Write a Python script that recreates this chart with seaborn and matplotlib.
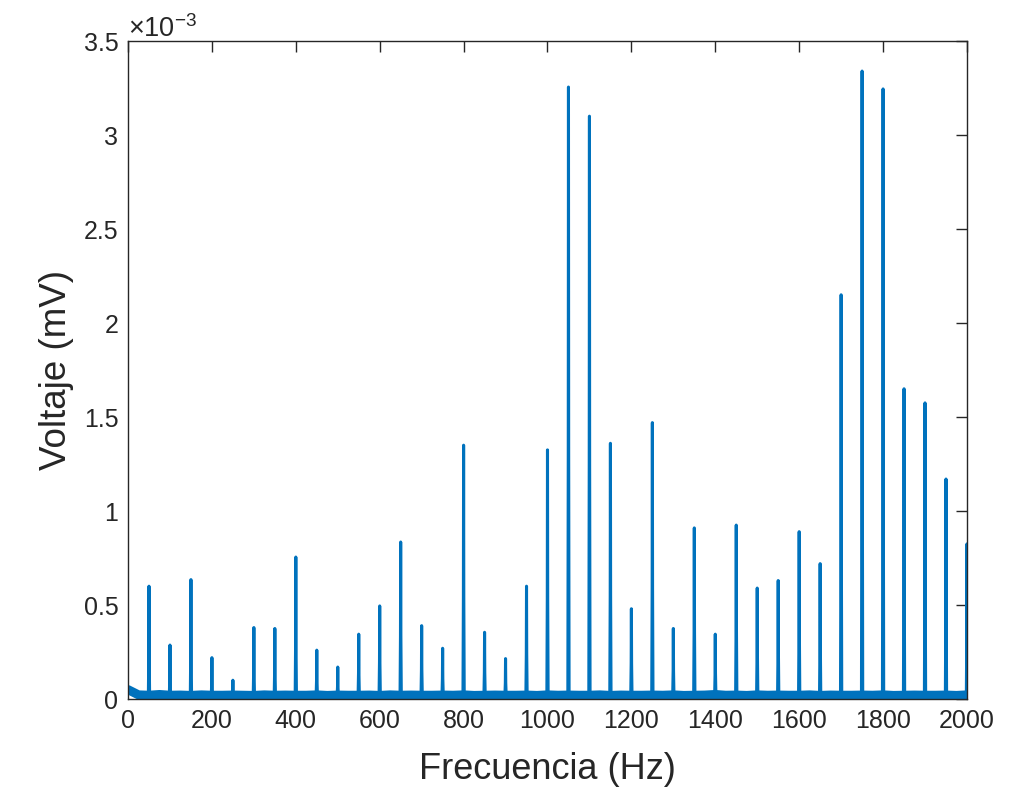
import numpy as np
import pandas as pd
import matplotlib
matplotlib.use("Agg")
import matplotlib.pyplot as plt
import seaborn as sns
from matplotlib.ticker import ScalarFormatter

# Harmonic peaks (Hz) and their amplitudes (x1e-3 mV)
peak_freqs = [50, 100, 150, 200, 250, 300, 350, 400, 450, 500,
              550, 600, 650, 700, 750, 800, 850, 900, 950, 1000,
              1050, 1100, 1150, 1200, 1250, 1300, 1350, 1400, 1450, 1500,
              1550, 1600, 1650, 1700, 1750, 1800, 1850, 1900, 1950, 2000]
peak_vals = [0.60, 0.287, 0.635, 0.22, 0.10, 0.38, 0.375, 0.755, 0.26, 0.17,
             0.345, 0.495, 0.835, 0.39, 0.27, 1.35, 0.355, 0.215, 0.60, 1.325,
             3.255, 3.10, 1.36, 0.48, 1.47, 0.375, 0.91, 0.345, 0.925, 0.59,
             0.63, 0.89, 0.72, 2.15, 3.34, 3.245, 1.65, 1.575, 1.17, 0.825]

# Noise floor read every 25 Hz (x1e-3 mV)
floor_freqs = list(range(0, 2001, 25))
floor_vals = [0.05, 0.022, 0.02, 0.024, 0.02, 0.021, 0.019, 0.022, 0.02, 0.02,
              0.021, 0.02, 0.019, 0.022, 0.02, 0.021, 0.02, 0.02, 0.022, 0.019,
              0.021, 0.02, 0.02, 0.021, 0.019, 0.022, 0.02, 0.021, 0.02, 0.02,
              0.021, 0.02, 0.022, 0.019, 0.02, 0.021, 0.02, 0.02, 0.021, 0.019,
              0.022, 0.02, 0.021, 0.02, 0.02, 0.022, 0.019, 0.021, 0.02, 0.02,
              0.021, 0.02, 0.022, 0.019, 0.02, 0.021, 0.024, 0.02, 0.021, 0.019,
              0.022, 0.02, 0.021, 0.02, 0.02, 0.022, 0.019, 0.021, 0.02, 0.02,
              0.021, 0.02, 0.022, 0.019, 0.02, 0.021, 0.02, 0.02, 0.021, 0.019,
              0.022]

scale = 1e-3
base = 0.02

# spike series built from peak data
sx, sy = [], []
for f, v in zip(peak_freqs, peak_vals):
    sx += [f - 1.5, f - 0.5, f, f + 0.5, f + 1.5]
    sy += [base, v * 0.4, v, v * 0.4, base]
spikes = pd.DataFrame({"f": sx, "v": np.array(sy) * scale})
floor = pd.DataFrame({"f": floor_freqs, "v": np.array(floor_vals) * scale})


class MatlabFormatter(ScalarFormatter):
    def _set_format(self):
        self.format = "%g"


sns.set_theme(style="white")
plt.rcParams["font.family"] = ["Liberation Sans", "DejaVu Sans"]
plt.rcParams["mathtext.fontset"] = "custom"
plt.rcParams["mathtext.rm"] = "Liberation Sans"
plt.rcParams["axes.unicode_minus"] = False

fig = plt.figure(figsize=(10.12, 7.87), dpi=100)
ax = fig.add_axes([0.1265, 0.1118, 0.829, 0.8361])

color = "#0072BD"
sns.lineplot(data=floor, x="f", y="v", ax=ax, color=color, lw=6.5,
             estimator=None, sort=True)
sns.lineplot(data=spikes, x="f", y="v", ax=ax, color=color, lw=2.2,
             estimator=None, sort=True)

ax.set_xlim(0, 2000)
ax.set_ylim(0, 3.5e-3)
ax.set_xticks(np.arange(0, 2001, 200))
ax.set_yticks(np.arange(0, 3.51e-3, 0.5e-3))
fmt = MatlabFormatter(useMathText=True)
fmt.set_powerlimits((-2, 2))
ax.yaxis.set_major_formatter(fmt)

dark = "#262626"
for s in ax.spines.values():
    s.set_color(dark)
    s.set_linewidth(1.0)
ax.tick_params(direction="in", length=8, width=1.0, colors=dark,
               labelsize=18, top=True, right=True, pad=7)
ax.yaxis.get_offset_text().set_fontsize(19.5)
ax.yaxis.get_offset_text().set_color(dark)

ax.set_xlabel("Frecuencia (Hz)", fontsize=26, color=dark, labelpad=14)
ax.set_ylabel("Voltaje (mV)", fontsize=26.5, color=dark, labelpad=7)

fig.savefig("out.png", dpi=100, facecolor="white")
